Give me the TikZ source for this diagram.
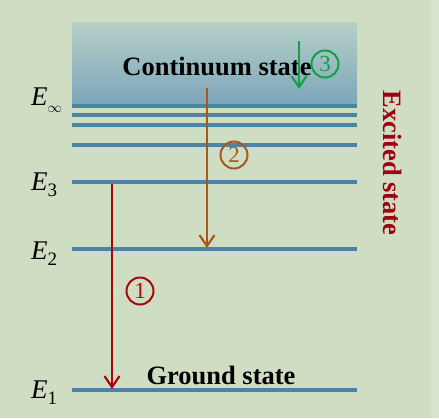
\documentclass[tikz,border=0pt]{standalone}
\usepackage{fontspec}
\setmainfont{Liberation Serif}
\usetikzlibrary{arrows.meta}
\definecolor{bg}{HTML}{CFDEC3}
\definecolor{bgedge}{HTML}{D5E4CA}
\definecolor{shtop}{HTML}{B6CFC6}
\definecolor{shbot}{HTML}{7EA7BB}
\definecolor{lvl}{HTML}{4A86A4}
\definecolor{redc}{HTML}{A80808}
\definecolor{brownc}{HTML}{A8581A}
\definecolor{greenc}{HTML}{12A048}
\definecolor{exc}{HTML}{A00010}
\tikzset{
  level/.style={draw=lvl,line width=3.6pt},
  trans/.style={line width=2.2pt,-{Straight Barb[length=11pt,width=15pt]}},
  circnum/.style={circle,draw,line width=2pt,minimum size=27pt,inner sep=0pt,
    font=\fontsize{23}{23}\selectfont},
  elabel/.style={anchor=base west,inner sep=0pt},
  bigbold/.style={font=\fontsize{26.5}{26.5}\selectfont\bfseries,inner sep=0pt}
}
\newcommand{\Elab}[1]{{\fontsize{27}{27}\selectfont\itshape E}\raisebox{-6.5pt}{\fontsize{19}{19}\selectfont #1}}
\begin{document}
\begin{tikzpicture}[x=1pt,y=-1pt]
\useasboundingbox (0,0) rectangle (439,418);
\fill[bg] (0,0) rectangle (439,418);
\fill[bgedge] (431,0) rectangle (439,418);
% continuum band
\shade[top color=shtop,bottom color=shbot] (72,22) rectangle (357,103);
% levels
\foreach \yy/\nm in {106/linf,115/lb,125/lc,145/ld,182/l3,249/l2,390/l1}{
  \coordinate (\nm W) at (72,\yy);
  \coordinate (\nm E) at (357,\yy);
  \draw[level] (\nm W) -- (\nm E);
}
% labels
\node[elabel] (Einf) at (31,105) {{\fontsize{27}{27}\selectfont\itshape E}\raisebox{-7pt}{\fontsize{15}{15}\selectfont$\infty$}};
\node[elabel] (E3) at (31,190) {\Elab{3}};
\node[elabel] (E2) at (31,259) {\Elab{2}};
\node[elabel] (E1) at (31,398) {\Elab{1}};
\node[bigbold,anchor=base] (cont) at (217,75) {Continuum state};
\node[bigbold,anchor=base] (ground) at (221,384) {Ground state};
\node[bigbold,text=exc,rotate=-90] (excited) at (393,163) {Excited state};
% transitions
\coordinate (r1) at (112,184);
\coordinate (r2) at (112,389);
\coordinate (b1) at (207,88);
\coordinate (b2) at (207,248);
\coordinate (g1) at (299,41);
\coordinate (g2) at (299,89);
\draw[trans,redc] (r1) -- (r2);
\draw[trans,brownc] (b1) -- (b2);
\draw[trans,greenc] (g1) -- (g2);
\node[circnum,draw=redc,text=redc] (n1) at (140,291) {1};
\node[circnum,draw=brownc,text=brownc] (n2) at (234,155) {2};
\node[circnum,draw=greenc,text=greenc] (n3) at (325,64) {3};
\end{tikzpicture}
\end{document}
